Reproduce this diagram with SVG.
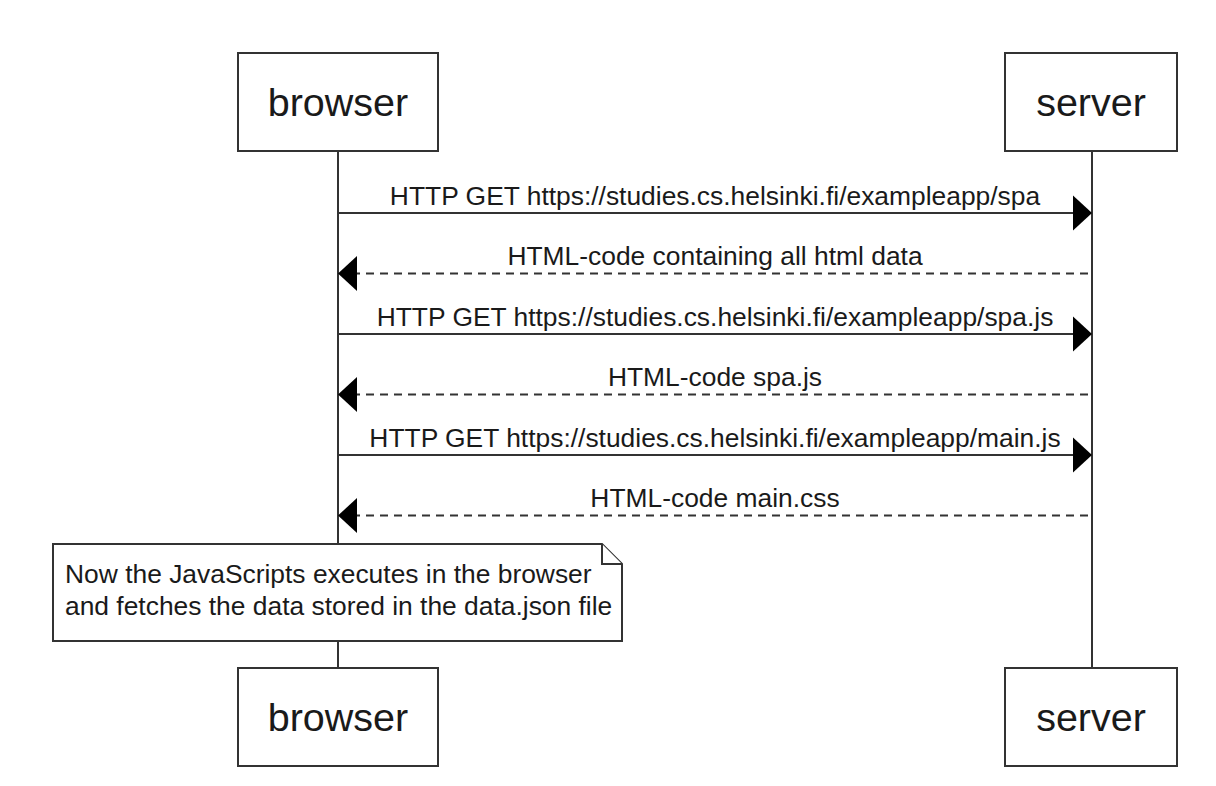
<svg xmlns="http://www.w3.org/2000/svg" width="1216" height="786" viewBox="0 0 1216 786">
<style>
.actor{fill:#fff;stroke:#333;stroke-width:2}
.atext{font-family:"Liberation Sans",Arial,sans-serif;font-size:39.5px;fill:#1a1a1a;text-anchor:middle}
.life{stroke:#333;stroke-width:2}
.msg{stroke:#333;stroke-width:2;fill:none}
.dash{stroke-dasharray:8 6}
.mtext{font-family:"Liberation Sans",Arial,sans-serif;font-size:26.4px;fill:#1a1a1a;text-anchor:middle}
.ntext{font-family:"Liberation Sans",Arial,sans-serif;font-size:26.4px;fill:#1a1a1a}
.head{fill:#000}
.note{fill:#fff;stroke:#333;stroke-width:2}
</style>
<rect width="1216" height="786" fill="#fff"/>
<g id="lifelines">
<line class="life" x1="338" y1="151" x2="338" y2="668"/>
<line class="life" x1="1092" y1="151" x2="1092" y2="668"/>
</g>
<g id="actor-browser-top">
<rect class="actor" x="238" y="53" width="200" height="98"/>
<text class="atext" x="338" y="116">browser</text>
</g>
<g id="actor-server-top">
<rect class="actor" x="1005" y="53" width="172" height="98"/>
<text class="atext" x="1091" y="116">server</text>
</g>
<g id="actor-browser-bottom">
<rect class="actor" x="238" y="668" width="200" height="98"/>
<text class="atext" x="338" y="731">browser</text>
</g>
<g id="actor-server-bottom">
<rect class="actor" x="1005" y="668" width="172" height="98"/>
<text class="atext" x="1091" y="731">server</text>
</g>
<g id="connectors">
<line class="msg" x1="338" y1="213" x2="1076" y2="213"/>
<polygon class="head" points="1092,213 1073,195.5 1073,230.5"/>
<text class="mtext" x="715" y="205">HTTP GET https://studies.cs.helsinki.fi/exampleapp/spa</text>

<line class="msg dash" x1="1088" y1="273.5" x2="354" y2="273.5"/>
<polygon class="head" points="338,273.5 357,256 357,291"/>
<text class="mtext" x="715" y="265">HTML-code containing all html data</text>

<line class="msg" x1="338" y1="334" x2="1076" y2="334"/>
<polygon class="head" points="1092,334 1073,316.5 1073,351.5"/>
<text class="mtext" x="715" y="326">HTTP GET https://studies.cs.helsinki.fi/exampleapp/spa.js</text>

<line class="msg dash" x1="1088" y1="394.5" x2="354" y2="394.5"/>
<polygon class="head" points="338,394.5 357,377 357,412"/>
<text class="mtext" x="715" y="386">HTML-code spa.js</text>

<line class="msg" x1="338" y1="455" x2="1076" y2="455"/>
<polygon class="head" points="1092,455 1073,437.5 1073,472.5"/>
<text class="mtext" x="715" y="447">HTTP GET https://studies.cs.helsinki.fi/exampleapp/main.js</text>

<line class="msg dash" x1="1088" y1="515.5" x2="354" y2="515.5"/>
<polygon class="head" points="338,515.5 357,498 357,533"/>
<text class="mtext" x="715" y="507">HTML-code main.css</text>
</g>
<g id="note">
<path class="note" d="M53,544 H602 L622,564 V641 H53 Z"/>
<path class="note" d="M602,544 V564 H622"/>
<text class="ntext" x="65" y="583">Now the JavaScripts executes in the browser</text>
<text class="ntext" x="65" y="615">and fetches the data stored in the data.json file</text>
</g>
</svg>
